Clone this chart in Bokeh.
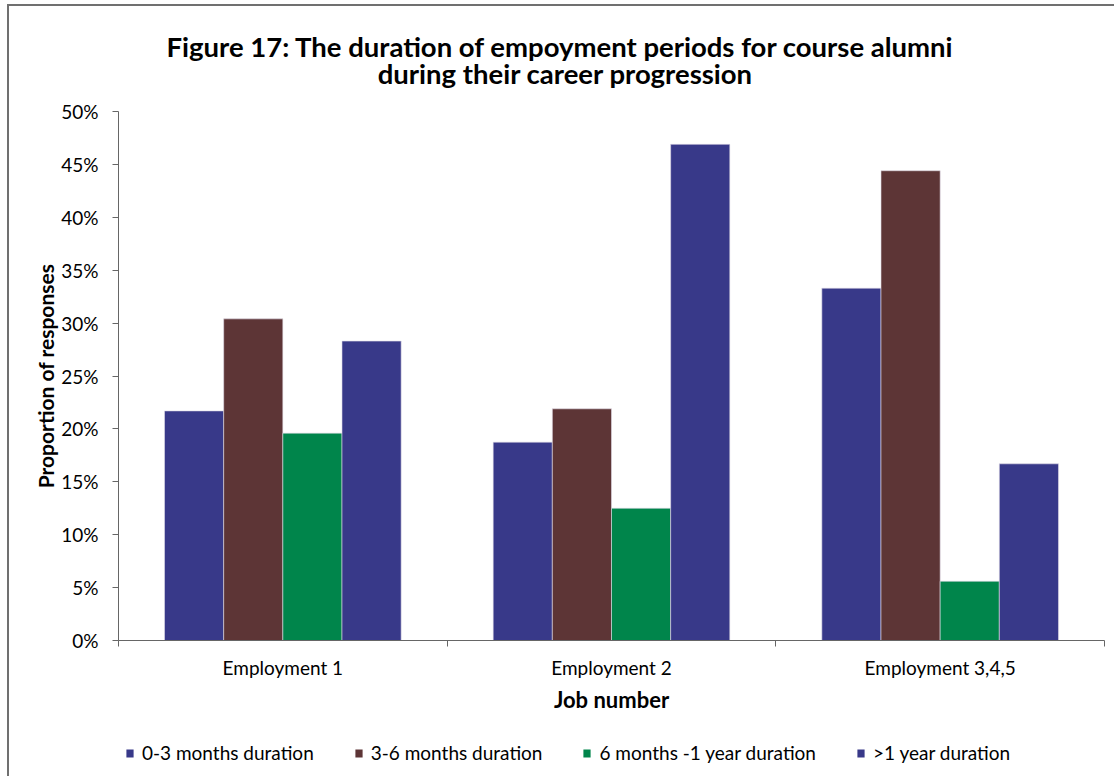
from bokeh.plotting import figure
from bokeh.layouts import column
from bokeh.models import (ColumnDataSource, FixedTicker, NumeralTickFormatter, Legend, LegendItem,
                          Label, Range1d)
from bokeh.embed import file_html
from bokeh.resources import INLINE

# ---- data ----
categories = ["Employment 1", "Employment 2", "Employment 3,4,5"]
series_names = ["0-3 months duration", "3-6 months duration", "6 months -1 year duration", ">1 year duration"]
dur_0_3 = [0.217, 0.1875, 0.333]
dur_3_6 = [0.304, 0.219, 0.444]
dur_6_12 = [0.196, 0.125, 0.056]
dur_1y = [0.283, 0.469, 0.167]
y_ticks = [0, 0.05, 0.10, 0.15, 0.20, 0.25, 0.30, 0.35, 0.40, 0.45, 0.50]
title_lines = ["Figure 17: The duration of empoyment periods for course alumni",
               "during their career progression"]

colors = ["#383989", "#5d3536", "#00854b", "#383989"]
series = [dur_0_3, dur_3_6, dur_6_12, dur_1y]

FONT = "Lato"
W, H = 1116, 778
OX = 9                      # left margin (7) + left border (2)
BORDER = "2px solid #707070"
TOP_H = 94                  # title strip canvas (window y 6..100)
MAIN_H = 622                # chart canvas (window y 100..722)
LEG_H = H - 6 - TOP_H - MAIN_H  # legend strip (window y 722..778)
FL, FR, FT, FB = 118, 1104, 113, 642  # frame edges in window px (strip frames align to FL too)


def strip(height, margin, styles):
    f = figure(width=W - OX, height=height, output_backend="svg", toolbar_location=None,
               x_axis_location=None, y_axis_location=None, min_border=0,
               x_range=Range1d(0, 1), y_range=Range1d(0, 1))
    f.margin = margin
    f.styles = styles
    f.outline_line_color = None
    f.grid.visible = False
    f.background_fill_color = "white"
    f.border_fill_color = "white"
    return f


# ---- title strip ----
top = strip(TOP_H, (4, 0, 0, 7), {"border-left": BORDER, "border-top": BORDER})
title_cx = [560, 565]
title_cy = [46, 73]
for line, cx, cy in zip(title_lines, title_cx, title_cy):
    top.add_layout(Label(x=cx - FL, y=100 - cy, x_units="screen", y_units="screen", text=line,
                         text_font=FONT, text_font_style="bold", text_font_size="27.5px",
                         text_align="center", text_baseline="middle", text_color="#000000"))

# ---- main chart ----
p = figure(width=W - OX, height=MAIN_H, output_backend="svg", toolbar_location=None,
           x_range=Range1d(0, len(categories)), y_range=Range1d(0, 0.5),
           min_border_left=FL - OX, min_border_right=W - FR, min_border_top=FT - 100,
           min_border_bottom=(100 + MAIN_H) - FB)
p.margin = (0, 0, 0, 7)
p.styles = {"border-left": BORDER}
p.outline_line_color = None
p.xgrid.visible = False
p.ygrid.visible = False
p.background_fill_color = "white"
p.border_fill_color = "white"

bar_w = 0.18
offsets = [-0.27, -0.09, 0.09, 0.27]
for vals, col, off in zip(series, colors, offsets):
    src = ColumnDataSource(dict(x=[i + 0.5 + off for i in range(len(categories))], top=vals))
    p.vbar(x="x", top="top", width=bar_w, source=src, fill_color=col, line_color="#e0dce8", line_width=0.6)

axcol = "#666666"
p.yaxis.ticker = FixedTicker(ticks=y_ticks)
p.yaxis.formatter = NumeralTickFormatter(format="0%")
p.yaxis.minor_tick_line_color = None
p.yaxis.major_tick_out = 6
p.yaxis.major_tick_in = 0
p.yaxis.axis_line_color = axcol
p.yaxis.major_tick_line_color = axcol
p.yaxis.major_label_text_font = FONT
p.yaxis.major_label_text_font_size = "19px"
p.yaxis.major_label_text_color = "#000000"
p.yaxis.major_label_standoff = 14
p.yaxis.axis_label = "Proportion of responses"
p.yaxis.axis_label_text_font = FONT
p.yaxis.axis_label_text_font_style = "bold"
p.yaxis.axis_label_text_font_size = "21px"
p.yaxis.axis_label_text_color = "#000000"
p.yaxis.axis_label_standoff = 0

centers = [i + 0.5 for i in range(len(categories))]
p.xaxis.ticker = FixedTicker(ticks=centers, minor_ticks=list(range(len(categories) + 1)))
p.xaxis.major_label_overrides = {c: name for c, name in zip(centers, categories)}
p.xaxis.major_tick_out = 0
p.xaxis.major_tick_in = 0
p.xaxis.minor_tick_out = 6
p.xaxis.minor_tick_in = 0
p.xaxis.minor_tick_line_color = axcol
p.xaxis.axis_line_color = axcol
p.xaxis.major_label_text_font = FONT
p.xaxis.major_label_text_font_size = "19px"
p.xaxis.major_label_text_color = "#000000"
p.xaxis.major_label_standoff = 9
p.xaxis.axis_label = "Job number"
p.xaxis.axis_label_text_font = FONT
p.xaxis.axis_label_text_font_style = "bold"
p.xaxis.axis_label_text_font_size = "22px"
p.xaxis.axis_label_text_color = "#000000"
p.xaxis.axis_label_standoff = 4

# ---- legend strip ----
leg = strip(LEG_H, (0, 0, 0, 7), {"border-left": BORDER})
leg_renderers = []
for col in colors:
    # off-range point: only the legend swatch is visible
    leg_renderers.append(leg.vbar(x="x", top="top", width=0.1, fill_color=col, line_color=None,
                                  source=ColumnDataSource(dict(x=[-100.0], top=[0.0]))))
legend = Legend(items=[LegendItem(label=n, renderers=[r]) for n, r in zip(series_names, leg_renderers)],
                orientation="horizontal", location=(125 - FL, H - 766), padding=0, margin=0, spacing=40,
                glyph_width=9, glyph_height=10, label_standoff=8, label_height=20,
                label_text_font=FONT, label_text_font_size="19px", label_text_color="#000000",
                background_fill_alpha=0, border_line_color=None)
leg.add_layout(legend)

layout = column(top, p, leg, spacing=0)
open("out.html", "w").write(file_html(layout, INLINE))
